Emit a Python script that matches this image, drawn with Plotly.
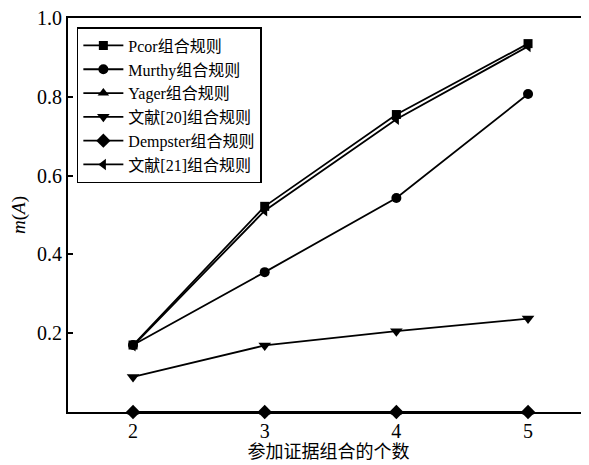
import plotly.graph_objects as go

x_vals = [2, 3, 4, 5]
pcor = [0.170, 0.522, 0.755, 0.935]
murthy = [0.170, 0.355, 0.543, 0.807]
yager = [0.0, 0.0, 0.0, 0.0]
wx20 = [0.089, 0.169, 0.205, 0.237]
dempster = [0.0, 0.0, 0.0, 0.0]
wx21 = [0.168, 0.511, 0.743, 0.928]

names = ["Pcor组合规则", "Murthy组合规则", "Yager组合规则", "文献[20]组合规则", "Dempster组合规则", "文献[21]组合规则"]
series = [pcor, murthy, yager, wx20, dempster, wx21]
symbols = ["square", "circle", "triangle-up", "triangle-down", "diamond", "triangle-left"]
sizes = [9, 10, 10, 11, 11, 10]

FONT = "Liberation Serif, Times New Roman, Noto Sans CJK SC, serif"

fig = go.Figure()
for name, ys, sym, sz in zip(names, series, symbols, sizes):
    fig.add_trace(go.Scatter(
        x=x_vals, y=ys, name=name, mode="lines+markers",
        line=dict(color="black", width=1.8),
        marker=dict(symbol=sym, size=sz, color="black"),
        cliponaxis=False,
    ))

# page body has an 8px margin, so the figure is sized to fill the rest of the window
fig.update_layout(
    width=581, height=457,
    margin=dict(l=60, r=0, t=10, b=53),
    paper_bgcolor="white", plot_bgcolor="white",
    font=dict(family=FONT, size=17, color="black"),
    showlegend=True,
    legend=dict(
        x=0.017, y=0.977, xanchor="left", yanchor="top",
        bordercolor="black", borderwidth=1.5, bgcolor="white",
        font=dict(family=FONT, size=16, color="black"),
        itemwidth=40, tracegroupgap=0,
    ),
    xaxis=dict(
        range=[1.506, 5.463], tickvals=x_vals, ticktext=["2", "3", "4", "5"],
        showline=True, linecolor="black", linewidth=2, mirror=True,
        showgrid=False, zeroline=False, ticks="", automargin=False,
        ticklabeloverflow="allow",
        tickfont=dict(family=FONT, size=20),
        title=dict(text="参加证据组合的个数", font=dict(family=FONT, size=18), standoff=2),
    ),
    yaxis=dict(
        range=[0, 1.0], tickvals=[0.2, 0.4, 0.6, 0.8, 1.0],
        ticktext=["0.2", "0.4", "0.6", "0.8", "1.0"],
        showline=True, linecolor="black", linewidth=2, automargin=False,
        ticklabeloverflow="allow",
        showgrid=False, zeroline=False, ticks="inside", ticklen=5, tickwidth=1.5, tickcolor="black",
        tickfont=dict(family=FONT, size=20),
        title=dict(text="<i>m</i>(<i>A</i>)", font=dict(family=FONT, size=19), standoff=6),
    ),
)

fig.write_html("out.html")
